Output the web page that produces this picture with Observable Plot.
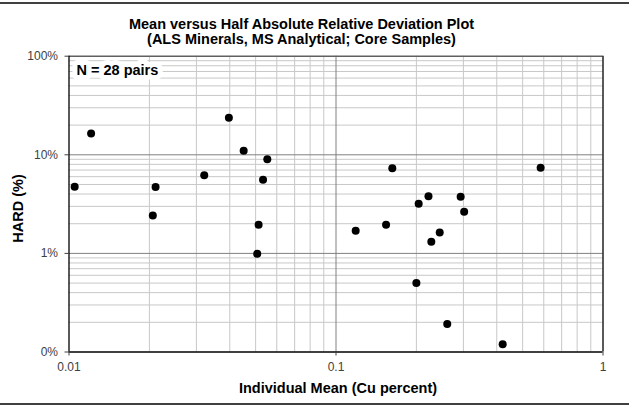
<!DOCTYPE html>
<html><head><meta charset="utf-8">
<script src="https://cdn.jsdelivr.net/npm/d3@7"></script>
<script src="https://cdn.jsdelivr.net/npm/@observablehq/plot@0.6"></script>
<style>
body{margin:0;background:#fff}
#chart{position:relative;width:629px;height:406px;overflow:hidden;background:#fff}
#chart svg{position:absolute;left:0;top:0;background:transparent}
.edge{position:absolute;left:0;width:629px;height:2px;background:#404040}
</style></head><body>
<div id="chart"></div>
<script>
// ---- data ----
const titleLines = ["Mean versus Half Absolute Relative Deviation Plot", "(ALS Minerals, MS Analytical; Core Samples)"];
const xTitle = "Individual Mean (Cu percent)";
const yTitle = "HARD (%)";
const nLabel = "N = 28 pairs";

const meanCu = [0.0105, 0.0121, 0.0211, 0.0321, 0.0397, 0.0451, 0.0553, 0.0533, 0.0206, 0.0513, 0.0507,
                0.1625, 0.584, 0.222, 0.204, 0.293, 0.302, 0.1185, 0.154, 0.2446, 0.2275, 0.200, 0.261, 0.421];
const hardPct = [4.75, 16.4, 4.72, 6.2, 23.7, 11.0, 9.0, 5.6, 2.42, 1.95, 0.99,
                 7.3, 7.4, 3.8, 3.18, 3.75, 2.64, 1.70, 1.95, 1.63, 1.31, 0.50, 0.192, 0.12];

const xMajor = [0.01, 0.1, 1];
const xTickLabels = ["0.01", "0.1", "1"];
const yMajor = [0.1, 1, 10, 100];
const yTickLabels = ["0%", "1%", "10%", "100%"];
const xMinor = [0.02,0.03,0.04,0.05,0.06,0.07,0.08,0.09,0.2,0.3,0.4,0.5,0.6,0.7,0.8,0.9];
const yMinor = [0.2,0.3,0.4,0.5,0.6,0.7,0.8,0.9,2,3,4,5,6,7,8,9,20,30,40,50,60,70,80,90];

const points = meanCu.map((m, i) => ({mean: m, hard: hardPct[i]}));

const bold = {fontWeight: "bold", fill: "#000", frameAnchor: "top-left", lineAnchor: "middle", textAnchor: "middle"};

const svg = Plot.plot({
  width: 629, height: 406,
  marginLeft: 68.5, marginRight: 26.5, marginTop: 55.7, marginBottom: 54.5,
  style: {fontFamily: "'Liberation Sans', Arial, sans-serif", fontSize: "12px", color: "#000", background: "transparent"},
  x: {type: "log", domain: [0.01, 1]},
  y: {type: "log", domain: [0.1, 100]},
  marks: [
    Plot.ruleX(xMinor, {stroke: "#c8c8c8"}),
    Plot.ruleY(yMinor, {stroke: "#c8c8c8"}),
    Plot.ruleX([0.1], {stroke: "#808080"}),
    Plot.ruleY([1, 10], {stroke: "#808080"}),
    Plot.ruleY([100], {stroke: "#606060", strokeWidth: 1.5}),
    Plot.ruleX([0.01, 1], {stroke: "#000", strokeWidth: 1.3}),
    Plot.ruleY([0.1], {stroke: "#000", strokeWidth: 1.3}),
    Plot.axisX(xMajor, {tickFormat: d => xTickLabels[xMajor.indexOf(d)], tickSize: 4, tickPadding: 6, fontSize: 12, color: "#404040", label: null}),
    Plot.axisY(yMajor, {tickFormat: d => yTickLabels[yMajor.indexOf(d)], tickSize: 4, tickPadding: 7, fontSize: 12, color: "#404040", label: null}),
    Plot.dot(points, {x: "mean", y: "hard", r: 4, fill: "#000"}),
    Plot.text([nLabel], {...bold, dx: 7.5, dy: 14.3, textAnchor: "start", fontSize: 14.5, stroke: "#fff", strokeWidth: 10, strokeLinejoin: "round"}),
    Plot.text([titleLines[0]], {...bold, dx: 232.5, dy: -31.7, fontSize: 14.5}),
    Plot.text([titleLines[1]], {...bold, dx: 232.5, dy: -16.7, fontSize: 14.5}),
    Plot.text([xTitle], {...bold, dx: 269, dy: 332.3, fontSize: 14.5}),
    Plot.text([yTitle], {...bold, dx: -51, dy: 152.3, fontSize: 14.5, rotate: -90})
  ]
});
const chart = document.getElementById("chart");
chart.appendChild(svg);
for (const t of [2, 403]) {
  const e = document.createElement("div");
  e.className = "edge"; e.style.top = t + "px";
  chart.appendChild(e);
}
</script>
</body></html>
